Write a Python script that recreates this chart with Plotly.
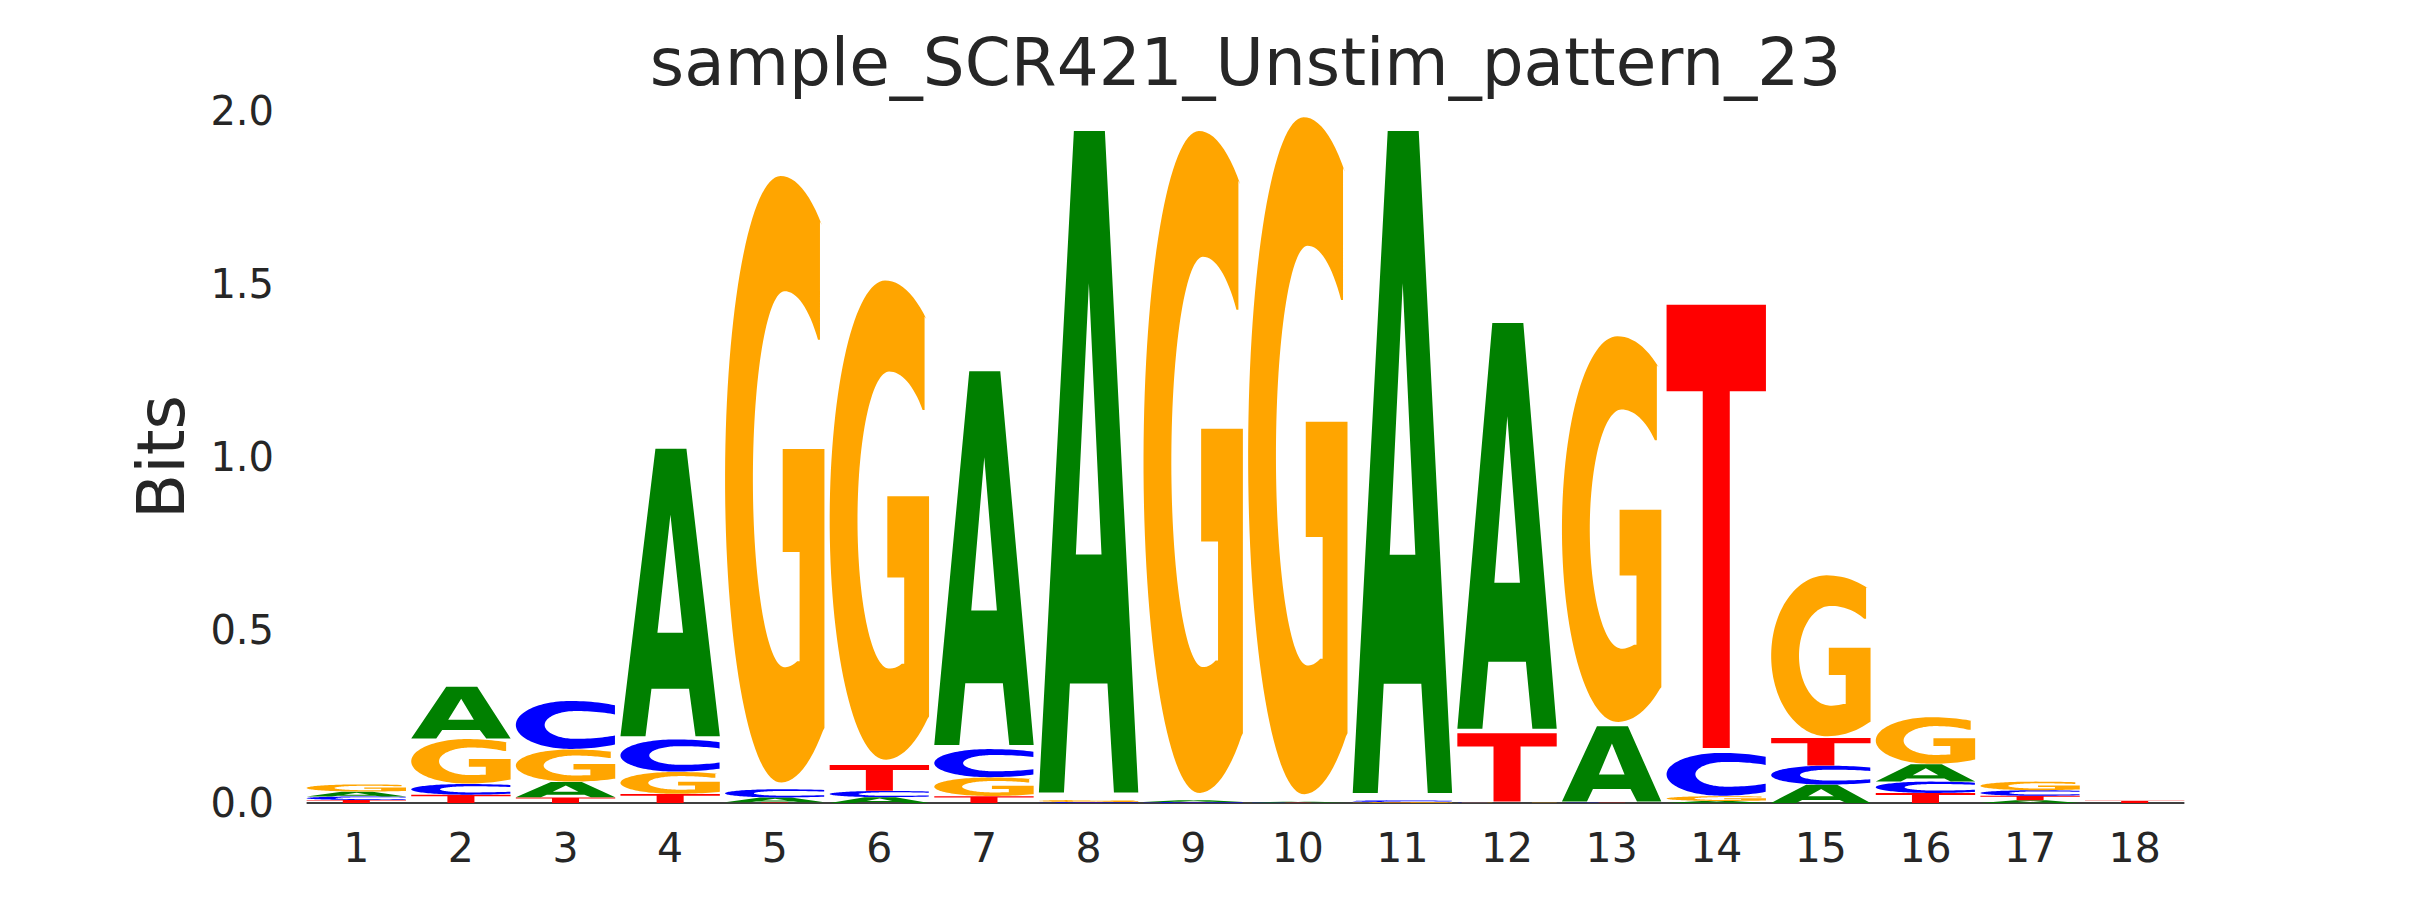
import numpy as np
import plotly.graph_objects as go

# ---------------- data (bits per base at each position) ----------------
positions = list(range(1, 19))
bits_A = [0.014, 0.151, 0.045, 0.840, 0.014, 0.017, 1.092, 1.933, 0.005, 0.002,
          1.934, 1.185, 0.220, 0.006, 0.053, 0.050, 0.008, 0.000]
bits_C = [0.010, 0.031, 0.140, 0.094, 0.024, 0.018, 0.082, 0.002, 0.002, 0.001,
          0.005, 0.001, 0.001, 0.125, 0.055, 0.033, 0.016, 0.000]
bits_G = [0.021, 0.130, 0.094, 0.064, 1.772, 1.400, 0.054, 0.006, 1.934, 1.978,
          0.002, 0.001, 1.127, 0.014, 0.470, 0.136, 0.025, 0.000]
bits_T = [0.009, 0.024, 0.016, 0.026, 0.002, 0.075, 0.020, 0.001, 0.001, 0.001,
          0.001, 0.200, 0.001, 1.295, 0.080, 0.029, 0.013, 0.007]
y_ticks = [0.0, 0.5, 1.0, 1.5, 2.0]
title_text = "sample_SCR421_Unstim_pattern_23"

colors = {"A": "#008000", "C": "#0000ff", "G": "#ffa500", "T": "#ff0000"}
LETTER_WIDTH = 0.95
BOTTOM_PAD = 0.011


# ---------------- glyph outlines in a unit box ----------------
def arc(cx, cy, rx_l, rx_r, ry, a0, a1, n=60):
    pts = []
    for a in np.linspace(np.radians(a0), np.radians(a1), n):
        c = np.cos(a)
        rx = rx_r if c > 0 else rx_l
        pts.append((cx + rx * c, cy + ry * np.sin(a)))
    return pts


def glyph_A():
    outer = [(0, 0), (0.352, 1), (0.664, 1), (1, 0), (0.755, 0), (0.69, 0.165),
             (0.312, 0.165), (0.252, 0)]
    hole = [(0.372, 0.36), (0.63, 0.36), (0.503, 0.77)]
    return [outer, hole]


def glyph_T():
    return [[(0, 1), (1, 1), (1, 0.805), (0.636, 0.805), (0.636, 0),
             (0.364, 0), (0.364, 0.805), (0, 0.805)]]


def glyph_C():
    outer = arc(0.55, 0.5, 0.55, 0.78, 0.5, 55, 305, 90)
    s = np.degrees(np.arcsin(0.22 / 0.29))
    inner = arc(0.6, 0.5, 0.31, 0.61, 0.29, 360 - s, s, 90)
    return [outer + inner]


def glyph_G():
    outer = arc(0.56, 0.5, 0.56, 0.76, 0.5, 57, 304, 90)
    bar = [(1.0, 0.09), (1.0, 0.55), (0.58, 0.55), (0.58, 0.38), (0.75, 0.38), (0.75, 0.2)]
    s0 = np.degrees(np.arcsin(0.3 / 0.31))
    s1 = np.degrees(np.arcsin(0.23 / 0.31))
    inner = arc(0.6, 0.5, 0.32, 0.5, 0.31, 360 - s0, s1, 90)
    term = [(0.955, 0.73), (0.955, 0.925)]
    return [outer + bar + inner + term]


glyphs = {"A": glyph_A(), "C": glyph_C(), "G": glyph_G(), "T": glyph_T()}


def glyph_path(letter, xc, y0, h):
    x_left = xc - LETTER_WIDTH / 2
    pad = BOTTOM_PAD * h
    parts = []
    for contour in glyphs[letter]:
        seg = []
        for i, (u, v) in enumerate(contour):
            x = x_left + u * LETTER_WIDTH
            y = y0 + pad + v * (h - pad)
            seg.append(("M" if i == 0 else "L") + f"{x:.5f},{y:.6f}")
        parts.append(" ".join(seg) + " Z")
    return " ".join(parts)


# ---------------- figure ----------------
fig = go.Figure()
# invisible trace to establish axes
fig.add_trace(go.Scatter(x=positions, y=[0] * len(positions), mode="markers",
                         marker=dict(opacity=0), hoverinfo="skip", showlegend=False))

shapes = [dict(type="line", xref="x", yref="y",
               x0=positions[0] - LETTER_WIDTH / 2, x1=positions[-1] + LETTER_WIDTH / 2,
               y0=0, y1=0, line=dict(color="black", width=1.5), layer="above")]
table = {"A": bits_A, "C": bits_C, "G": bits_G, "T": bits_T}
for i, p in enumerate(positions):
    vals = sorted([(table[L][i], L) for L in "TCAG"], key=lambda t: t[0])
    base = 0.0
    for v, L in vals:
        if v > 0:
            shapes.append(dict(type="path", xref="x", yref="y",
                               path=glyph_path(L, p, base, v),
                               fillcolor=colors[L], line=dict(width=0), layer="above"))
        base += v

text_color = "#262626"
fig.update_layout(
    width=2430, height=900,
    paper_bgcolor="white", plot_bgcolor="white",
    margin=dict(l=296, r=251, t=96, b=98),
    shapes=shapes,
    showlegend=False,
    title=dict(text=title_text, x=0.5, xref="paper", xanchor="center",
               y=1 - 54 / 900, yref="container", yanchor="middle",
               font=dict(family="DejaVu Sans", size=66, color=text_color)),
    font=dict(family="DejaVu Sans", color=text_color),
)
fig.update_xaxes(range=[0.5, 18.5], tickmode="array", tickvals=positions,
                 ticktext=[str(p) for p in positions],
                 showgrid=False, zeroline=False, showline=False,
                 ticks="outside", ticklen=2, tickcolor="rgba(0,0,0,0)",
                 tickfont=dict(family="DejaVu Sans", size=41, color=text_color))
fig.update_yaxes(range=[-0.02, 2.02], tickmode="array", tickvals=y_ticks,
                 ticktext=[f"{t:.1f}" for t in y_ticks],
                 showgrid=False, zeroline=False, showline=False,
                 ticks="outside", ticklen=21, tickcolor="rgba(0,0,0,0)",
                 tickfont=dict(family="DejaVu Sans", size=40, color=text_color),
                 title=dict(text="Bits", standoff=4,
                            font=dict(family="DejaVu Sans", size=66, color=text_color)))

fig.write_html("out.html")
